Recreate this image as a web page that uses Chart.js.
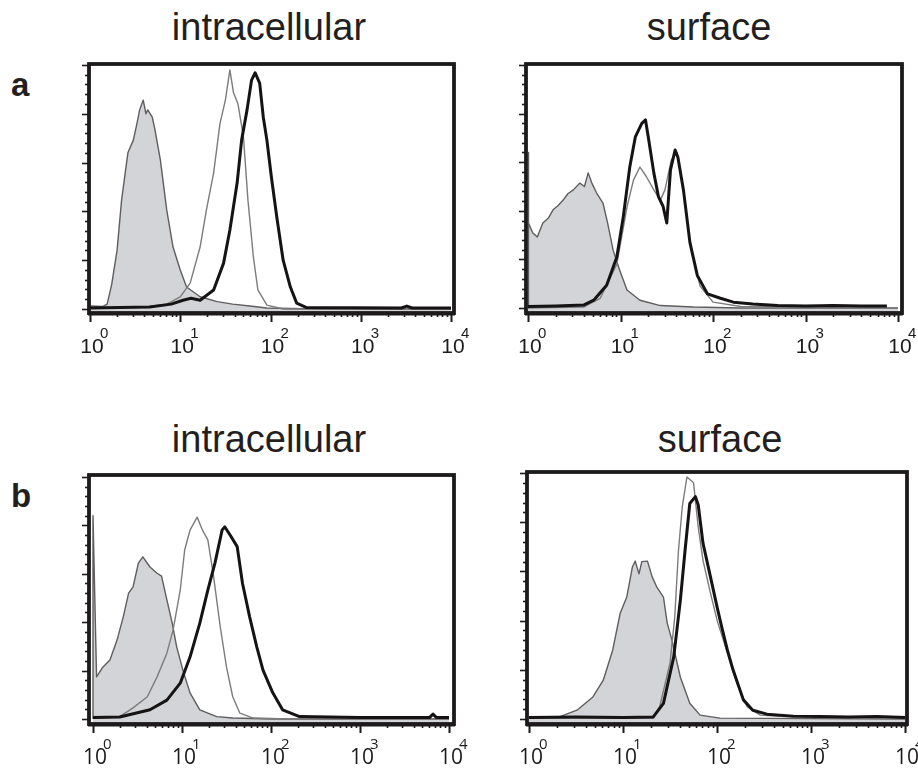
<!DOCTYPE html>
<html lang="en">
<head>
  <meta charset="UTF-8" />
  <title>intracellular / surface histograms</title>
  <script src="https://cdn.jsdelivr.net/npm/chart.js"></script>
  <style>
    body {
      margin: 0;
      background: #ffffff;
      font-family: "Liberation Sans", Arial, sans-serif;
      color: #231f20;
    }
    #page {
      position: relative;
      width: 918px;
      height: 769px;
      overflow: hidden;
    }
    #page canvas {
      position: absolute;
      left: 0;
      top: 0;
      pointer-events: none;
    }
    .title {
      position: absolute;
      font-size: 38px;
      line-height: 38px;
      white-space: nowrap;
      transform: translateX(-50%);
    }
    .letter {
      position: absolute;
      font-size: 33px;
      line-height: 33px;
      font-weight: bold;
    }
  </style>
</head>
<body>

<div id="page">
  <div class="title" style="left: 269px; top: 8px;">intracellular</div>
  <div class="title" style="left: 709px; top: 8px;">surface</div>
  <div class="title" style="left: 269px; top: 420px;">intracellular</div>
  <div class="title" style="left: 720px; top: 420px;">surface</div>
  <div class="letter" style="left: 11px; top: 68px;">a</div>
  <div class="letter" style="left: 11px; top: 479px;">b</div>
</div>

<script>
  // x values are log10 of fluorescence (10^0 .. 10^4), y values are counts in tick units
  const decades = [0, 1, 2, 3, 4];
  const decadeLabels = ['0', '1', '2', '3', '4'];
  const countTicks = [0, 1, 2, 3, 4, 5];

  // --- a, intracellular ---
  const isoA1X = [0, 0.14, 0.19, 0.24, 0.30, 0.35, 0.42, 0.48, 0.52, 0.55, 0.59, 0.62, 0.64, 0.69, 0.72, 0.78, 0.85, 0.92, 1.00, 1.07, 1.22, 1.41, 1.58, 1.77, 1.96, 2.5, 4];
  const isoA1Y = [0.06, 0.05, 0.1, 0.5, 1.2, 2.23, 3.2, 3.46, 3.8, 4.08, 4.28, 4.0, 4.08, 3.93, 3.67, 3.05, 2.03, 1.27, 0.8, 0.45, 0.25, 0.15, 0.1, 0.06, 0.02, 0, 0];
  const thinA1X = [0, 0.66, 0.85, 1.00, 1.11, 1.22, 1.29, 1.37, 1.44, 1.50, 1.55, 1.59, 1.64, 1.70, 1.75, 1.81, 1.86, 1.96, 2.14, 4];
  const thinA1Y = [0.02, 0.05, 0.1, 0.25, 0.53, 1.27, 2.03, 2.79, 3.8, 4.28, 4.9, 4.43, 4.2, 3.53, 2.23, 1.07, 0.39, 0.08, 0, 0];
  const thickA1X = [0, 0.66, 0.9, 1.03, 1.12, 1.22, 1.37, 1.48, 1.55, 1.63, 1.68, 1.74, 1.79, 1.83, 1.88, 1.92, 1.96, 2.01, 2.07, 2.14, 2.22, 2.29, 2.40, 3.45, 3.51, 3.57, 4];
  const thickA1Y = [0.02, 0.04, 0.1, 0.18, 0.22, 0.18, 0.39, 0.94, 1.62, 2.58, 3.46, 4.08, 4.69, 4.84, 4.63, 3.93, 3.46, 2.70, 1.88, 1.0, 0.45, 0.12, 0.03, 0.02, 0.06, 0.02, 0.02];

  // --- a, surface ---
  const isoA2X = [0, 0, 0.01, 0.05, 0.10, 0.16, 0.22, 0.27, 0.32, 0.38, 0.43, 0.49, 0.56, 0.61, 0.65, 0.69, 0.74, 0.81, 0.86, 0.92, 0.99, 1.07, 1.21, 1.43, 1.79, 2.3, 4];
  const isoA2Y = [0, 3.2, 1.75, 1.55, 1.46, 1.75, 1.85, 2.02, 2.1, 2.22, 2.35, 2.43, 2.57, 2.5, 2.78, 2.57, 2.37, 2.16, 1.75, 1.19, 0.78, 0.37, 0.16, 0.05, 0.02, 0, 0];
  const thinA2X = [0, 0.6, 0.78, 0.96, 1.07, 1.14, 1.21, 1.28, 1.36, 1.43, 1.48, 1.55, 1.61, 1.67, 1.75, 1.86, 2.0, 2.3, 4];
  const thinA2Y = [0, 0.02, 0.2, 0.9, 2.08, 2.63, 2.9, 2.7, 2.43, 2.22, 2.43, 3.05, 3.2, 2.57, 1.35, 0.45, 0.12, 0.03, 0];
  const thickA2X = [0, 0.3, 0.6, 0.71, 0.85, 0.96, 1.03, 1.10, 1.16, 1.23, 1.27, 1.30, 1.36, 1.41, 1.46, 1.50, 1.54, 1.59, 1.62, 1.68, 1.75, 1.83, 1.94, 2.08, 2.22, 2.43, 2.7, 3.0, 3.3, 3.6, 3.88];
  const thickA2Y = [0.03, 0.04, 0.06, 0.16, 0.47, 1.05, 1.88, 2.9, 3.52, 3.8, 3.87, 3.52, 2.78, 2.29, 2.09, 1.75, 2.84, 3.25, 3.1, 2.43, 1.35, 0.67, 0.29, 0.2, 0.12, 0.08, 0.05, 0.04, 0.05, 0.04, 0.04];

  // --- b, intracellular ---
  const isoB1X = [0, 0, 0.04, 0.11, 0.19, 0.27, 0.34, 0.40, 0.45, 0.51, 0.56, 0.64, 0.72, 0.77, 0.83, 0.89, 0.94, 1.01, 1.09, 1.20, 1.39, 1.57, 2.0, 4];
  const isoB1Y = [0, 4.2, 0.87, 1.07, 1.22, 1.63, 2.11, 2.6, 2.73, 3.22, 3.35, 3.14, 3.01, 2.95, 2.46, 1.98, 1.49, 1.01, 0.54, 0.19, 0.05, 0.02, 0, 0];
  const thinB1X = [0, 0.3, 0.45, 0.61, 0.72, 0.83, 0.90, 0.98, 1.03, 1.09, 1.17, 1.23, 1.29, 1.35, 1.43, 1.50, 1.57, 1.65, 1.80, 2.2, 4];
  const thinB1Y = [0.02, 0.05, 0.23, 0.46, 0.87, 1.36, 1.84, 2.66, 3.49, 3.9, 4.17, 3.9, 3.7, 3.01, 1.9, 1.07, 0.46, 0.12, 0.02, 0, 0];
  const thickB1X = [0, 0.3, 0.64, 0.83, 0.98, 1.09, 1.20, 1.29, 1.37, 1.45, 1.48, 1.54, 1.62, 1.68, 1.76, 1.84, 1.91, 2.02, 2.13, 2.32, 3.0, 3.78, 3.82, 3.86, 4];
  const thickB1Y = [0.03, 0.04, 0.19, 0.39, 0.74, 1.28, 1.98, 2.66, 3.22, 3.9, 3.97, 3.8, 3.56, 2.8, 2.11, 1.49, 1.01, 0.54, 0.19, 0.05, 0.03, 0.03, 0.1, 0.03, 0.03];

  // --- b, surface ---
  const isoB2X = [0, 0.33, 0.51, 0.68, 0.79, 0.89, 0.97, 1.04, 1.10, 1.13, 1.17, 1.20, 1.26, 1.31, 1.36, 1.43, 1.47, 1.52, 1.61, 1.71, 1.82, 2.03, 4];
  const isoB2Y = [0.02, 0.05, 0.18, 0.45, 0.79, 1.4, 2.15, 2.48, 3.09, 3.21, 2.95, 3.2, 3.21, 2.89, 2.68, 2.48, 1.95, 1.61, 0.85, 0.32, 0.08, 0.02, 0];
  const thinB2X = [0, 1.32, 1.39, 1.50, 1.55, 1.59, 1.63, 1.68, 1.75, 1.80, 1.85, 1.93, 2.0, 2.11, 2.21, 2.32, 2.46, 2.8, 4];
  const thinB2Y = [0.02, 0.02, 0.25, 1.14, 2.07, 3.43, 4.31, 4.92, 4.8, 3.9, 3.23, 2.56, 2.01, 1.34, 0.73, 0.25, 0.08, 0.04, 0.02];
  const thickB2X = [0, 0.5, 1.0, 1.32, 1.43, 1.54, 1.61, 1.66, 1.71, 1.77, 1.80, 1.85, 1.93, 2.0, 2.05, 2.11, 2.17, 2.28, 2.38, 2.53, 2.81, 3.1, 3.4, 3.7, 4];
  const thickB2Y = [0.03, 0.04, 0.03, 0.04, 0.32, 1.27, 2.42, 3.43, 4.38, 4.52, 4.35, 3.58, 2.89, 2.28, 1.87, 1.4, 1.0, 0.39, 0.18, 0.1, 0.06, 0.05, 0.04, 0.05, 0.03];

  // frame = [left, top, right, bottom] of the plot box on the page
  const panels = [
    { frame: [89, 64, 454, 313], xRange: [-0.011, 4.033], yRange: [-0.082, 5.02], font: '"Liberation Sans", Arial, sans-serif',
      series: [[isoA1X, isoA1Y], [thinA1X, thinA1Y], [thickA1X, thickA1Y]] },
    { frame: [526, 64, 902, 313], xRange: [-0.022, 4.043], yRange: [-0.103, 5.02], font: '"Liberation Sans", Arial, sans-serif',
      series: [[isoA2X, isoA2Y], [thinA2X, thinA2Y], [thickA2X, thickA2Y]] },
    { frame: [89, 475, 454, 724], xRange: [-0.045, 4.056], yRange: [-0.103, 5.04], font: '"Open Sans", sans-serif',
      series: [[isoB1X, isoB1Y], [thinB1X, thinB1Y], [thickB1X, thickB1Y]] },
    { frame: [527, 472, 907, 724], xRange: [-0.021, 4.02], yRange: [-0.10, 5.02], font: '"Open Sans", sans-serif',
      series: [[isoB2X, isoB2Y], [thinB2X, thinB2Y], [thickB2X, thickB2Y]] }
  ];

  function toPoints(xs, ys) {
    return xs.map((x, i) => ({ x: x, y: ys[i] }));
  }

  // box, log ticks and 10^n labels
  const facsAxes = {
    id: 'facsAxes',
    afterDatasetsDraw(chart, args, opts) {
      const { ctx, chartArea: a, scales } = chart;
      const xs = scales.x, ys = scales.y;
      ctx.save();
      ctx.strokeStyle = '#1c1a1b';
      ctx.fillStyle = '#1c1a1b';

      // y ticks on the left, minor every 0.2
      ctx.lineWidth = 1.6;
      countTicks.forEach(v => {
        const py = Math.round(ys.getPixelForValue(v)) + 0.5;
        ctx.beginPath(); ctx.moveTo(a.left - 7, py); ctx.lineTo(a.left, py); ctx.stroke();
        if (v < countTicks[countTicks.length - 1]) {
          for (let k = 1; k < 5; k++) {
            const my = Math.round(ys.getPixelForValue(v + k * 0.2)) + 0.5;
            ctx.beginPath(); ctx.moveTo(a.left - 4, my); ctx.lineTo(a.left, my); ctx.stroke();
          }
        }
      });

      // x ticks below, decades long, 2..9 short
      decades.forEach(d => {
        const px = Math.round(xs.getPixelForValue(d)) + 0.5;
        ctx.lineWidth = 2;
        ctx.beginPath(); ctx.moveTo(px, a.bottom); ctx.lineTo(px, a.bottom + 9); ctx.stroke();
        if (d < decades[decades.length - 1]) {
          ctx.lineWidth = 1.6;
          for (let k = 2; k < 10; k++) {
            const mx = Math.round(xs.getPixelForValue(d + Math.log10(k))) + 0.5;
            ctx.beginPath(); ctx.moveTo(mx, a.bottom); ctx.lineTo(mx, a.bottom + 4); ctx.stroke();
          }
        }
      });

      // frame
      ctx.lineWidth = 3.8;
      ctx.strokeRect(a.left, a.top, a.right - a.left, a.bottom - a.top);
      ctx.lineWidth = 2;
      ctx.beginPath(); ctx.moveTo(a.left - 1, a.bottom + 1.5); ctx.lineTo(a.right + 1, a.bottom + 1.5); ctx.stroke();

      // labels: 10 with raised exponent
      decades.forEach((d, i) => {
        const px = xs.getPixelForValue(d);
        ctx.font = '21px ' + opts.font;
        ctx.textAlign = 'center';
        ctx.textBaseline = 'alphabetic';
        ctx.fillText('10', px + 2, a.bottom + 40);
        ctx.font = '15px ' + opts.font;
        ctx.textAlign = 'left';
        ctx.fillText(decadeLabels[i], px + 10, a.bottom + 25);
      });
      ctx.restore();
    }
  };

  const page = document.getElementById('page');

  panels.forEach(p => {
    const canvas = document.createElement('canvas');
    canvas.width = 918;
    canvas.height = 769;
    page.appendChild(canvas);

    const [iso, thin, thick] = p.series;
    new Chart(canvas.getContext('2d'), {
      type: 'line',
      data: {
        datasets: [
          { data: toPoints(thick[0], thick[1]), borderColor: '#151314', borderWidth: 3, fill: false, order: 1 },
          { data: toPoints(thin[0], thin[1]), borderColor: '#7d7b7c', borderWidth: 1.4, fill: false, order: 2 },
          { data: toPoints(iso[0], iso[1]), borderColor: '#5f5d5e', borderWidth: 1.4, backgroundColor: '#d3d4d7', fill: 'start', order: 3 }
        ]
      },
      options: {
        responsive: false,
        animation: false,
        events: [],
        layout: {
          padding: { left: p.frame[0], top: p.frame[1], right: 918 - p.frame[2], bottom: 769 - p.frame[3] }
        },
        elements: {
          point: { radius: 0 },
          line: { tension: 0, borderJoinStyle: 'round' }
        },
        scales: {
          x: { type: 'linear', display: false, min: p.xRange[0], max: p.xRange[1] },
          y: { type: 'linear', display: false, min: p.yRange[0], max: p.yRange[1] }
        },
        plugins: {
          legend: { display: false },
          tooltip: { enabled: false },
          facsAxes: { font: p.font }
        }
      },
      plugins: [facsAxes]
    });
  });
</script>

</body>
</html>
